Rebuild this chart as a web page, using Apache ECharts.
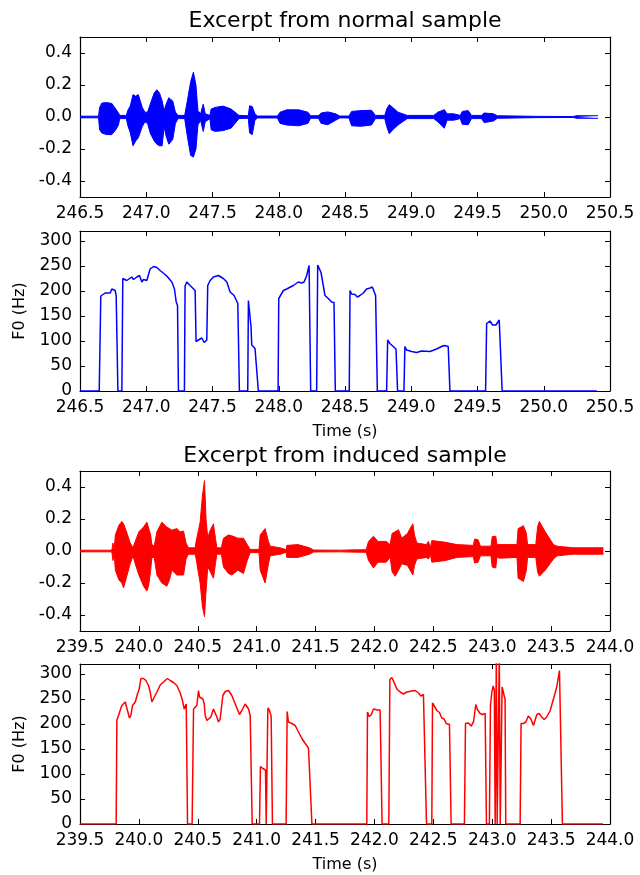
<!DOCTYPE html>
<html>
<head>
<meta charset="utf-8">
<script src="https://cdn.jsdelivr.net/npm/echarts@6/dist/echarts.min.js"></script>
<style>
  html, body { margin: 0; padding: 0; background: #fff; }
  #chart { width: 640px; height: 875px; }
</style>
</head>
<body>
<div id="chart"></div>
<script>
// waveform envelopes (upper / lower)
const normWaveT = [246.50, 246.64, 246.648, 246.665, 246.70, 246.74, 246.77, 246.79, 246.80, 246.85, 246.86, 246.88, 246.90, 246.92, 246.94, 246.97, 246.99, 247.01, 247.03, 247.06, 247.08, 247.10, 247.12, 247.135, 247.15, 247.17, 247.18, 247.20, 247.22, 247.24, 247.29, 247.31, 247.335, 247.356, 247.375, 247.39, 247.41, 247.43, 247.445, 247.48, 247.49, 247.52, 247.58, 247.64, 247.67, 247.70, 247.77, 247.78, 247.80, 247.82, 247.84, 247.99, 248.01, 248.06, 248.15, 248.22, 248.24, 248.30, 248.32, 248.37, 248.43, 248.46, 248.53, 248.55, 248.62, 248.70, 248.73, 248.80, 248.815, 248.834, 248.86, 248.90, 248.97, 249.17, 249.20, 249.25, 249.27, 249.32, 249.37, 249.385, 249.43, 249.455, 249.53, 249.55, 249.62, 249.65, 249.95, 250.22, 250.25, 250.41];
const normWaveHi = [0.005, 0.005, 0.06, 0.087, 0.09, 0.085, 0.05, 0.025, 0.01, 0.01, 0.04, 0.07, 0.14, 0.13, 0.14, 0.06, 0.03, 0.03, 0.08, 0.15, 0.17, 0.15, 0.10, 0.04, 0.08, 0.12, 0.13, 0.10, 0.03, 0.01, 0.01, 0.10, 0.22, 0.28, 0.20, 0.04, 0.02, 0.08, 0.02, 0.01, 0.05, 0.06, 0.068, 0.05, 0.03, 0.01, 0.008, 0.07, 0.065, 0.02, 0.006, 0.006, 0.03, 0.045, 0.045, 0.03, 0.008, 0.008, 0.025, 0.032, 0.02, 0.006, 0.006, 0.035, 0.04, 0.042, 0.01, 0.01, 0.05, 0.077, 0.06, 0.03, 0.01, 0.01, 0.03, 0.046, 0.02, 0.02, 0.01, 0.035, 0.04, 0.01, 0.01, 0.025, 0.02, 0.008, 0.004, 0.003, 0.008, 0.008];
const normWaveLo = [-0.005, -0.005, -0.08, -0.10, -0.11, -0.11, -0.08, -0.05, -0.01, -0.01, -0.05, -0.10, -0.18, -0.15, -0.13, -0.06, -0.03, -0.04, -0.10, -0.15, -0.17, -0.18, -0.18, -0.06, -0.12, -0.17, -0.18, -0.14, -0.04, -0.01, -0.01, -0.12, -0.24, -0.25, -0.20, -0.05, -0.02, -0.09, -0.03, -0.01, -0.08, -0.09, -0.085, -0.07, -0.04, -0.01, -0.008, -0.10, -0.11, -0.02, -0.006, -0.006, -0.04, -0.05, -0.055, -0.04, -0.008, -0.008, -0.04, -0.048, -0.02, -0.006, -0.006, -0.055, -0.058, -0.05, -0.01, -0.01, -0.06, -0.104, -0.08, -0.05, -0.01, -0.01, -0.03, -0.07, -0.02, -0.02, -0.01, -0.045, -0.048, -0.01, -0.01, -0.035, -0.025, -0.008, -0.004, -0.003, -0.008, -0.008];

const normF0T = [246.50, 246.645, 246.657, 246.69, 246.728, 246.740, 246.753, 246.765, 246.773, 246.786, 246.816, 246.823, 246.853, 246.866, 246.891, 246.904, 246.929, 246.949, 246.967, 246.979, 247.004, 247.029, 247.055, 247.080, 247.105, 247.155, 247.193, 247.213, 247.226, 247.236, 247.243, 247.288, 247.293, 247.306, 247.318, 247.331, 247.369, 247.376, 247.394, 247.419, 247.437, 247.457, 247.464, 247.482, 247.507, 247.545, 247.582, 247.608, 247.633, 247.663, 247.691, 247.703, 247.766, 247.771, 247.784, 247.791, 247.796, 247.808, 247.821, 247.834, 247.846, 247.995, 248.000, 248.01, 248.035, 248.06, 248.11, 248.148, 248.173, 248.191, 248.211, 248.229, 248.241, 248.286, 248.294, 248.306, 248.319, 248.329, 248.349, 248.374, 248.399, 248.417, 248.427, 248.532, 248.538, 248.55, 248.575, 248.593, 248.613, 248.638, 248.663, 248.689, 248.706, 248.721, 248.731, 248.744, 248.814, 248.822, 248.839, 248.864, 248.885, 248.897, 248.945, 248.952, 248.965, 249.003, 249.041, 249.078, 249.141, 249.191, 249.229, 249.249, 249.262, 249.279, 249.292, 249.561, 249.569, 249.594, 249.614, 249.639, 249.664, 249.676, 249.686, 250.40];
const normF0 = [0, 0, 190, 196, 196, 204, 206, 201, 191, 0, 0, 225, 221, 225, 228, 223, 228, 231, 218, 223, 221, 244, 249, 247, 241, 230, 218, 204, 178, 171, 0, 0, 210, 218, 216, 211, 201, 99, 102, 106, 97, 102, 211, 221, 228, 231, 225, 218, 198, 191, 175, 0, 0, 181, 179, 128, 92, 92, 85, 85, 0, 0, 185, 188, 201, 204, 211, 218, 216, 218, 231, 251, 0, 0, 252, 249, 237, 238, 191, 185, 178, 177, 0, 0, 201, 194, 193, 188, 191, 196, 204, 206, 208, 204, 191, 0, 0, 102, 95, 89, 84, 0, 0, 89, 82, 79, 77, 80, 79, 84, 89, 91, 89, 89, 0, 0, 135, 140, 132, 132, 142, 142, 0, 0];

const indWaveT = [239.50, 239.77, 239.78, 239.79, 239.80, 239.83, 239.855, 239.87, 239.90, 239.926, 239.95, 239.969, 240.00, 240.04, 240.068, 240.082, 240.10, 240.11, 240.13, 240.153, 240.195, 240.237, 240.26, 240.28, 240.322, 240.35, 240.379, 240.40, 240.42, 240.478, 240.486, 240.52, 240.54, 240.557, 240.57, 240.585, 240.60, 240.633, 240.65, 240.662, 240.70, 240.718, 240.76, 240.789, 240.84, 240.888, 240.92, 240.945, 241.02, 241.03, 241.072, 241.10, 241.115, 241.20, 241.25, 241.256, 241.35, 241.45, 241.482, 241.709, 241.80, 241.93, 241.95, 241.992, 242.03, 242.10, 242.133, 242.15, 242.176, 242.204, 242.232, 242.28, 242.326, 242.34, 242.36, 242.44, 242.459, 242.475, 242.487, 242.60, 242.70, 242.84, 242.85, 242.88, 242.90, 242.99, 243.00, 243.03, 243.04, 243.067, 243.21, 243.22, 243.265, 243.29, 243.30, 243.37, 243.385, 243.40, 243.45, 243.52, 243.55, 243.69, 243.944];
const indWaveHi = [0.005, 0.005, 0.05, 0.005, 0.10, 0.16, 0.185, 0.17, 0.11, 0.05, 0.02, 0.06, 0.12, 0.15, 0.18, 0.185, 0.10, 0.04, 0.03, 0.12, 0.18, 0.15, 0.14, 0.13, 0.14, 0.12, 0.125, 0.05, 0.02, 0.02, 0.06, 0.18, 0.35, 0.44, 0.20, 0.08, 0.12, 0.17, 0.08, 0.02, 0.02, 0.08, 0.10, 0.095, 0.08, 0.08, 0.04, 0.01, 0.01, 0.10, 0.14, 0.06, 0.03, 0.02, 0.008, 0.035, 0.04, 0.02, 0.006, 0.005, 0.007, 0.008, 0.06, 0.092, 0.06, 0.06, 0.04, 0.11, 0.12, 0.133, 0.08, 0.11, 0.17, 0.10, 0.05, 0.04, 0.06, 0.02, 0.065, 0.055, 0.04, 0.035, 0.075, 0.07, 0.03, 0.03, 0.09, 0.092, 0.04, 0.04, 0.04, 0.14, 0.158, 0.11, 0.04, 0.04, 0.15, 0.185, 0.12, 0.04, 0.03, 0.02, 0.02];
const indWaveLo = [-0.005, -0.005, -0.06, -0.005, -0.12, -0.18, -0.20, -0.23, -0.15, -0.08, -0.03, -0.08, -0.15, -0.22, -0.25, -0.22, -0.12, -0.04, -0.04, -0.15, -0.20, -0.22, -0.18, -0.12, -0.15, -0.15, -0.15, -0.05, -0.02, -0.02, -0.05, -0.20, -0.35, -0.41, -0.25, -0.10, -0.12, -0.17, -0.08, -0.02, -0.02, -0.10, -0.14, -0.15, -0.12, -0.14, -0.06, -0.01, -0.01, -0.12, -0.20, -0.08, -0.03, -0.02, -0.008, -0.04, -0.04, -0.02, -0.006, -0.005, -0.007, -0.008, -0.06, -0.106, -0.07, -0.07, -0.04, -0.13, -0.158, -0.12, -0.08, -0.09, -0.15, -0.09, -0.05, -0.04, -0.05, -0.02, -0.07, -0.06, -0.04, -0.035, -0.075, -0.07, -0.03, -0.03, -0.10, -0.106, -0.04, -0.045, -0.04, -0.17, -0.19, -0.12, -0.04, -0.04, -0.13, -0.158, -0.12, -0.05, -0.03, -0.02, -0.02];

const indF0T = [239.50, 239.807, 239.813, 239.827, 239.841, 239.855, 239.884, 239.898, 239.92, 239.932, 239.946, 239.969, 239.988, 240.003, 240.017, 240.039, 240.059, 240.082, 240.096, 240.11, 240.124, 240.153, 240.181, 240.223, 240.243, 240.266, 240.294, 240.322, 240.351, 240.37, 240.385, 240.393, 240.402, 240.413, 240.452, 240.464, 240.478, 240.492, 240.506, 240.515, 240.526, 240.543, 240.555, 240.563, 240.577, 240.591, 240.611, 240.633, 240.648, 240.662, 240.676, 240.69, 240.713, 240.733, 240.761, 240.789, 240.818, 240.854, 240.874, 240.902, 240.917, 240.931, 240.945, 240.962, 241.024, 241.032, 241.053, 241.066, 241.075, 241.081, 241.092, 241.095, 241.109, 241.123, 241.134, 241.25, 241.259, 241.27, 241.299, 241.327, 241.355, 241.384, 241.412, 241.44, 241.454, 241.469, 241.935, 241.941, 241.955, 241.972, 241.992, 242.006, 242.026, 242.048, 242.065, 242.122, 242.131, 242.148, 242.167, 242.19, 242.218, 242.246, 242.275, 242.317, 242.346, 242.374, 242.394, 242.416, 242.43, 242.442, 242.487, 242.493, 242.509, 242.53, 242.552, 242.572, 242.592, 242.609, 242.637, 242.651, 242.764, 242.773, 242.798, 242.821, 242.841, 242.861, 242.874, 242.897, 242.917, 242.94, 242.951, 242.976, 242.985, 242.997, 243.008, 243.018, 243.025, 243.031, 243.035, 243.042, 243.056, 243.06, 243.068, 243.078, 243.084, 243.101, 243.109, 243.115, 243.237, 243.245, 243.265, 243.285, 243.307, 243.328, 243.35, 243.364, 243.379, 243.398, 243.421, 243.441, 243.463, 243.492, 243.52, 243.548, 243.571, 243.585, 243.596, 243.94];
const indF0 = [0, 0, 207, 211, 227, 237, 244, 240, 212, 217, 237, 244, 260, 270, 291, 291, 287, 277, 264, 244, 247, 264, 278, 287, 291, 287, 283, 277, 262, 247, 230, 229, 240, 0, 0, 230, 234, 237, 267, 254, 250, 250, 240, 217, 207, 205, 214, 230, 230, 214, 204, 210, 257, 265, 267, 257, 240, 219, 227, 240, 240, 230, 217, 0, 0, 115, 111, 108, 108, 0, 0, 232, 227, 215, 0, 0, 225, 204, 201, 197, 184, 171, 161, 152, 151, 0, 0, 224, 215, 218, 230, 232, 228, 228, 0, 0, 289, 293, 283, 270, 264, 260, 264, 266, 267, 262, 256, 259, 257, 0, 0, 242, 240, 227, 223, 212, 210, 201, 199, 0, 0, 201, 202, 196, 204, 239, 229, 221, 219, 221, 0, 0, 237, 264, 276, 268, 0, 0, 340, 0, 0, 340, 0, 0, 274, 257, 250, 0, 0, 201, 201, 204, 216, 210, 197, 197, 219, 221, 214, 209, 214, 227, 250, 274, 307, 307, 0, 0];

const waveTicks = [-0.4, -0.2, 0.0, 0.2, 0.4];
const f0Ticks = [0, 50, 100, 150, 200, 250, 300];
const normTimeTicks = [246.5, 247.0, 247.5, 248.0, 248.5, 249.0, 249.5, 250.0, 250.5];
const indTimeTicks = [239.5, 240.0, 240.5, 241.0, 241.5, 242.0, 242.5, 243.0, 243.5, 244.0];

const FONT = 'DejaVu Sans';
const BLUE = '#0000ff';
const RED = '#ff0000';

const pairs = (xs, ys) => xs.map((x, i) => [x, ys[i]]);

const panels = [
  { top: 37, ticks: normTimeTicks, y: [-0.5, 0.5], yTicks: waveTicks, fmt: 1, name: '', yName: '' },
  { top: 231, ticks: normTimeTicks, y: [0, 320], yTicks: f0Ticks, fmt: 0, name: 'Time (s)', yName: 'F0 (Hz)' },
  { top: 471, ticks: indTimeTicks, y: [-0.5, 0.5], yTicks: waveTicks, fmt: 1, name: '', yName: '' },
  { top: 664, ticks: indTimeTicks, y: [0, 320], yTicks: f0Ticks, fmt: 0, name: 'Time (s)', yName: 'F0 (Hz)' }
];

const grid = [], xAxis = [], yAxis = [];
const tick = { inside: true, length: 5, lineStyle: { color: '#000', width: 1 } };
const line = { show: true, onZero: false, lineStyle: { color: '#000', width: 1.2 } };

panels.forEach((p, g) => {
  grid.push({ left: 80, top: p.top, width: 530, height: 160 });
  const xmin = p.ticks[0], xmax = p.ticks[p.ticks.length - 1];
  ['bottom', 'top'].forEach((pos) => {
    xAxis.push({
      type: 'value', gridIndex: g, position: pos, min: xmin, max: xmax,
      axisLine: line, splitLine: { show: false },
      axisTick: Object.assign({ customValues: p.ticks }, tick),
      axisLabel: {
        show: pos === 'bottom', customValues: p.ticks, margin: 8,
        color: '#000', fontFamily: FONT, fontSize: 17,
        formatter: (v) => v.toFixed(1)
      },
      name: pos === 'bottom' ? p.name : '', nameLocation: 'middle', nameGap: 33,
      nameTextStyle: { color: '#000', fontFamily: FONT, fontSize: 16 }
    });
  });
  ['left', 'right'].forEach((pos) => {
    yAxis.push({
      type: 'value', gridIndex: g, position: pos, min: p.y[0], max: p.y[1],
      axisLine: line, splitLine: { show: false },
      axisTick: Object.assign({ customValues: p.yTicks }, tick),
      axisLabel: {
        show: pos === 'left', customValues: p.yTicks, margin: 8,
        color: '#000', fontFamily: FONT, fontSize: 17,
        formatter: (v) => v.toFixed(p.fmt)
      },
      name: pos === 'left' ? p.yName : '', nameLocation: 'middle', nameGap: 52,
      nameRotate: 90,
      nameTextStyle: { color: '#000', fontFamily: FONT, fontSize: 16 }
    });
  });
});

const lineSeries = (idx, data, color, width, area) => ({
  type: 'line', xAxisIndex: idx * 2, yAxisIndex: idx * 2, data: data,
  showSymbol: false, symbol: 'none', clip: true, silent: true,
  lineStyle: { color: color, width: width },
  areaStyle: area ? { color: color, opacity: 1 } : undefined
});

const chart = echarts.init(document.getElementById('chart'), null, { renderer: 'canvas' });
chart.setOption({
  animation: false,
  backgroundColor: '#fff',
  grid: grid,
  xAxis: xAxis,
  yAxis: yAxis,
  graphic: [
    { type: 'text', x: 345, y: 21, style: { text: 'Excerpt from normal sample', fill: '#000', font: '22px "DejaVu Sans"', textAlign: 'center', textVerticalAlign: 'middle' } },
    { type: 'text', x: 345, y: 456, style: { text: 'Excerpt from induced sample', fill: '#000', font: '22px "DejaVu Sans"', textAlign: 'center', textVerticalAlign: 'middle' } }
  ],
  series: [
    lineSeries(0, pairs(normWaveT, normWaveHi), BLUE, 1, true),
    lineSeries(0, pairs(normWaveT, normWaveLo), BLUE, 1, true),
    lineSeries(1, pairs(normF0T, normF0), BLUE, 1.5, false),
    lineSeries(2, pairs(indWaveT, indWaveHi), RED, 1, true),
    lineSeries(2, pairs(indWaveT, indWaveLo), RED, 1, true),
    lineSeries(3, pairs(indF0T, indF0), RED, 1.5, false)
  ]
});
</script>
</body>
</html>
